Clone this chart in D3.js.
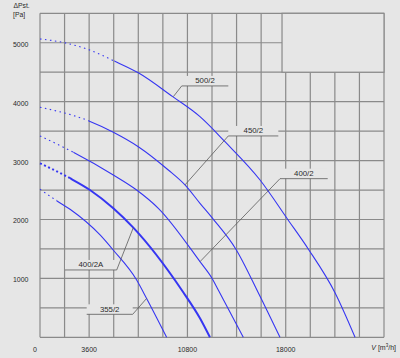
<!DOCTYPE html>
<html><head><meta charset="utf-8">
<script src="https://cdn.jsdelivr.net/npm/d3@7"></script>
<style>
body{margin:0;background:#e6e6e6}
svg{display:block}
text{font-family:"Liberation Sans",Arial,sans-serif;fill:#2a2a2a}
</style>
</head><body><svg id="c" width="400" height="358"></svg>
<script>
// ---- data ----
const seriesNames = ["500/2", "450/2", "400/2", "400/2A", "355/2"];
const flow500  = [0, 1800, 3600, 5440, 7200, 9720, 11720, 13550, 16120, 18150, 19650, 21610, 23080];
const pres500  = [5065, 5000, 4880, 4690, 4490, 4085, 3745, 3320, 2670, 2000, 1500, 757, 0];
const flow450  = [0, 3540, 5370, 7200, 9400, 10620, 11720, 12700, 14340, 15990, 17580];
const pres450  = [3905, 3677, 3481, 3236, 2840, 2587, 2275, 2003, 1499, 757, 0];
const flow400  = [0, 2440, 5370, 7080, 8670, 11720, 12620, 13060, 14890];
const pres400  = [3418, 3141, 2756, 2501, 2190, 1284, 995, 803, 0];
const flow400A = [0, 2200, 3660, 5370, 6835, 10380, 11720, 12450];
const pres400A = [2954, 2700, 2501, 2190, 1861, 803, 323, 0];
const flow355  = [0, 1220, 2200, 4400, 5360, 7080, 7810, 9280];
const pres355  = [2513, 2319, 2173, 1737, 1482, 973, 660, 0];
const dottedUntil = [5440, 3540, 2440, 2200, 1220];
const xTickValues = [0, 3600, 10800, 18000];
const yTickValues = [1000, 2000, 3000, 4000, 5000];
const xMax = 25200, xStep = 1800, yMax = 5500, yStep = 500;

// annotation anchors (data space): curve point, elbow, underline end
const annAnchorQ = [9766, 10623, 11722, 6835, 7817];
const annAnchorP = [4085, 2587, 1284, 1861, 662];
const annElbowQ  = [10381, 13795, 17582, 5619, 6791];
const annElbowP  = [4267, 3418, 2693, 1143, 390];
const annEndQ    = [13795, 17458, 21077, 1832, 3421];

// blank box top-right (data space)
const boxQ = [17730, 25200], boxP = [4500, 5500];

// ---- drawing ----
const svg = d3.select("#c");
const bg = "#e6e6e6", gridC = "#8a8a8a", blue = "#3636f2";
const x = d3.scaleLinear().domain([0, xMax]).range([40, 384]);
const y = d3.scaleLinear().domain([0, yMax]).range([337.3, 13.3]);

svg.append("rect").attr("width", 400).attr("height", 358).attr("fill", bg);

const g = svg.append("g");
// grid
g.selectAll("line.v").data(d3.range(0, xMax + 1, xStep)).join("line")
  .attr("x1", d => x(d)).attr("x2", d => x(d)).attr("y1", y(0)).attr("y2", y(yMax))
  .attr("stroke", gridC).attr("stroke-width", 1.2);
g.selectAll("line.h").data(d3.range(0, yMax + 1, yStep)).join("line")
  .attr("x1", x(0)).attr("x2", x(xMax)).attr("y1", d => y(d)).attr("y2", d => y(d))
  .attr("stroke", gridC).attr("stroke-width", 1.2);
// blank box
g.append("rect").attr("x", x(boxQ[0])).attr("y", y(boxP[1]))
  .attr("width", x(boxQ[1]) - x(boxQ[0])).attr("height", y(boxP[0]) - y(boxP[1]))
  .attr("fill", bg).attr("stroke", gridC).attr("stroke-width", 1.2);

// ticks
svg.selectAll("text.xt").data(xTickValues).join("text")
  .attr("x", d => x(d) - (d === 0 ? 5 : 0)).attr("y", 351.5)
  .attr("text-anchor", "middle").attr("font-size", 7).text(d => d);
svg.selectAll("text.yt").data(yTickValues).join("text")
  .attr("x", 28.5).attr("y", d => y(d) + 4)
  .attr("text-anchor", "end").attr("font-size", 7).text(d => d);
svg.append("text").attr("x", 13.5).attr("y", 8).attr("font-size", 6.8).text("ΔPst.");
svg.append("text").attr("x", 13).attr("y", 16.5).attr("font-size", 6.8).text("[Pa]");
const vt = svg.append("text").attr("x", 396).attr("y", 349.5).attr("text-anchor", "end").attr("font-size", 7);
vt.append("tspan").attr("font-style", "italic").text("V");
vt.append("tspan").text(" [m");
vt.append("tspan").attr("font-size", 4.5).attr("dy", -2.5).text("3");
vt.append("tspan").attr("dy", 2.5).text("/h]");

// curves
const flows = [flow500, flow450, flow400, flow400A, flow355];
const press = [pres500, pres450, pres400, pres400A, pres355];
const line = d3.line().x(d => x(d[0])).y(d => y(d[1])).curve(d3.curveMonotoneX);
const defs = svg.append("defs");
seriesNames.forEach((name, i) => {
  const pts = flows[i].map((q, k) => [q, press[i][k]]);
  const thick = name === "400/2A";
  const xd = x(dottedUntil[i]);
  defs.append("clipPath").attr("id", "cd" + i).append("rect")
    .attr("x", 0).attr("y", 0).attr("width", xd).attr("height", 358);
  defs.append("clipPath").attr("id", "cs" + i).append("rect")
    .attr("x", xd).attr("y", 0).attr("width", 400 - xd).attr("height", 358);
  svg.append("path").attr("d", line(pts)).attr("fill", "none").attr("stroke", blue)
    .attr("stroke-width", thick ? 2 : 1.1).attr("stroke-dasharray", thick ? "2,2.5" : "1.5,3.5")
    .attr("clip-path", `url(#cd${i})`);
  svg.append("path").attr("d", line(pts)).attr("fill", "none").attr("stroke", blue)
    .attr("stroke-width", thick ? 2 : 1.1)
    .attr("clip-path", `url(#cs${i})`);
});

// annotations
seriesNames.forEach((name, i) => {
  const ax = x(annAnchorQ[i]), ay = y(annAnchorP[i]);
  const ex = x(annElbowQ[i]), ey = y(annElbowP[i]);
  const zx = x(annEndQ[i]);
  const lo = Math.min(ex, zx), hi = Math.max(ex, zx);
  svg.append("rect").attr("x", lo).attr("y", ey - 10).attr("width", hi - lo).attr("height", 10).attr("fill", bg);
  svg.append("polyline").attr("points", `${ax},${ay} ${ex},${ey} ${zx},${ey}`)
    .attr("fill", "none").attr("stroke", "#5a5a5a").attr("stroke-width", 0.8);
  svg.append("text").attr("x", (lo + hi) / 2).attr("y", ey - 2.5)
    .attr("text-anchor", "middle").attr("font-size", 7.8).text(name);
});
</script>
</body></html>
